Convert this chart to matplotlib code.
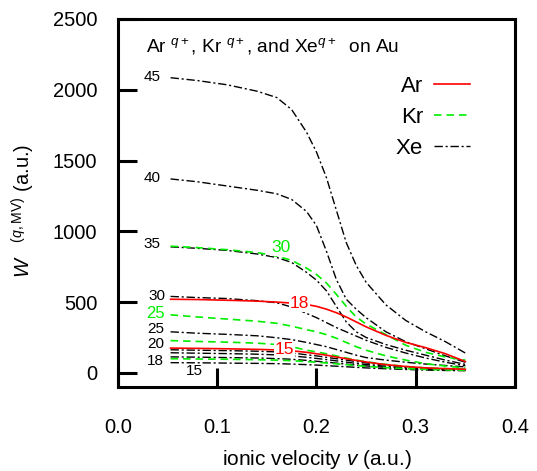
import numpy as np
import matplotlib
matplotlib.use('Agg')
import matplotlib.pyplot as plt

plt.rcParams['font.family'] = 'Liberation Sans'
plt.rcParams['mathtext.fontset'] = 'custom'
plt.rcParams['mathtext.rm'] = 'Liberation Sans'
plt.rcParams['mathtext.it'] = 'Liberation Sans:italic'
plt.rcParams['mathtext.bf'] = 'Liberation Sans:bold'

# ionic velocity grid (a.u.)
v = [0.053, 0.08, 0.11, 0.14, 0.16, 0.175, 0.19, 0.2, 0.21, 0.22,
     0.23, 0.24, 0.25, 0.27, 0.29, 0.31, 0.33, 0.35]

# W^(q,MV) in a.u.
ar_18 = [520, 518, 513, 507, 500, 493, 483, 470, 450, 425, 395, 360, 325, 265, 215, 178, 135, 80]
ar_15 = [175, 173, 170, 166, 162, 156, 145, 135, 125, 112, 100, 88, 77, 58, 45, 35, 30, 25]

kr_30 = [895, 885, 870, 850, 825, 795, 740, 695, 635, 555, 470, 395, 345, 270, 195, 145, 112, 90]
kr_25 = [410, 395, 380, 365, 350, 330, 305, 290, 270, 245, 215, 185, 160, 120, 90, 65, 48, 35]
kr_20 = [228, 222, 217, 210, 200, 185, 160, 148, 135, 120, 105, 90, 78, 60, 45, 35, 30, 25]
kr_18 = [100, 98, 96, 93, 90, 86, 80, 75, 70, 64, 58, 52, 46, 37, 30, 25, 21, 18]

xe_45 = [2085, 2065, 2035, 1990, 1945, 1860, 1700, 1560, 1380, 1150, 920, 760, 640, 480, 370, 290, 220, 140]
xe_40 = [1370, 1350, 1320, 1290, 1265, 1225, 1140, 1040, 860, 660, 520, 450, 390, 290, 220, 170, 120, 75]
xe_35 = [890, 880, 865, 840, 815, 780, 710, 655, 580, 470, 360, 290, 250, 200, 160, 125, 90, 60]
xe_30 = [540, 532, 525, 510, 495, 465, 420, 390, 355, 320, 290, 260, 230, 180, 140, 105, 75, 50]
xe_25 = [290, 280, 272, 262, 248, 235, 215, 200, 185, 165, 145, 125, 108, 90, 75, 62, 52, 42]
xe_20 = [163, 160, 157, 153, 148, 140, 128, 120, 110, 100, 90, 80, 70, 55, 42, 33, 28, 24]
xe_18a = [142, 139, 136, 132, 127, 120, 110, 102, 94, 85, 76, 67, 59, 46, 36, 29, 24, 20]
xe_18b = [113, 111, 108, 105, 101, 96, 88, 82, 76, 69, 62, 55, 49, 39, 31, 25, 21, 18]
xe_15 = [72, 71, 69, 67, 65, 62, 58, 55, 51, 47, 43, 39, 35, 29, 24, 20, 17, 15]

# charge-state labels: (text, v, W, colour)
q_labels = [('45', 0.034, 2092, 'k'), ('40', 0.034, 1376, 'k'), ('35', 0.034, 908, 'k'),
            ('30', 0.039, 546, 'k'), ('25', 0.038, 418, '#00ee00'), ('25', 0.038, 312, 'k'),
            ('20', 0.038, 206, 'k'), ('18', 0.038, 85, 'k'), ('15', 0.077, 14, 'k')]
q_labels_on = [('30', 0.164, 887, '#00ee00'), ('18', 0.183, 489, 'red'), ('15', 0.168, 163, 'red')]

xe_dash = (6, 2, 1.5, 2)
kr_dash = (4.5, 3)

fig = plt.figure(figsize=(5.37, 4.71), dpi=100)
ax = fig.add_axes([0.2197, 0.1783, 0.7393, 0.7814])

for y in [xe_45, xe_40, xe_35, xe_30, xe_25, xe_20, xe_18a, xe_18b, xe_15]:
    ax.plot(v, y, color='k', lw=1.0, dashes=xe_dash)
for y in [kr_30, kr_25, kr_20, kr_18]:
    ax.plot(v, y, color='#00ee00', lw=1.2, dashes=kr_dash)
for y in [ar_18, ar_15]:
    ax.plot(v, y, color='red', lw=1.2)

# legend handles
ax.plot([], [], color='red', lw=1.2, label='Ar')
ax.plot([], [], color='#00ee00', lw=1.2, dashes=kr_dash, label='Kr')
ax.plot([], [], color='k', lw=1.0, dashes=xe_dash, label='Xe')
h, l = ax.get_legend_handles_labels()
ax.legend(h[-3:], l[-3:], loc='upper right', bbox_to_anchor=(0.886, 0.845), frameon=False,
          markerfirst=False, fontsize=16, handlelength=1.6, handletextpad=0.5,
          labelspacing=0.45, borderpad=0, borderaxespad=0)

for t, x, y, c in q_labels:
    ax.text(x, y, t, color=c, fontsize=11 if c == 'k' else 12, ha='center', va='center')
for t, x, y, c in q_labels_on:
    ax.text(x, y, t, color=c, fontsize=12.5, ha='center', va='center',
            bbox=dict(facecolor='white', edgecolor='none', pad=0.5))

ax.text(0.0705, 0.91, r'Ar $^{q+}$, Kr $^{q+}$, and Xe$^{q+}$  on Au', transform=ax.transAxes,
        fontsize=13.8, va='baseline', ha='left')

ax.set_xlim(0, 0.4)
ax.set_ylim(-100, 2500)
ax.set_xticks([0.0, 0.1, 0.2, 0.3, 0.4])
ax.set_xticklabels(['0.0', '0.1', '0.2', '0.3', '0.4'])
ax.set_yticks([0, 500, 1000, 1500, 2000, 2500])
ax.tick_params(direction='in', length=14, width=2.2, labelsize=14.5)
ax.tick_params(axis='x', pad=22)
ax.tick_params(axis='y', pad=15)
for s in ax.spines.values():
    s.set_linewidth(2.2)

ax.set_xlabel(r'ionic velocity $v$ (a.u.)', fontsize=15)
ax.xaxis.set_label_coords(0.5, -0.165)
ax.set_ylabel(r'$W$   $^{(q,\mathrm{MV})}$ (a.u.)', fontsize=14.5)
ax.yaxis.set_label_coords(-0.205, 0.48)

fig.savefig('out.png', dpi=100)
